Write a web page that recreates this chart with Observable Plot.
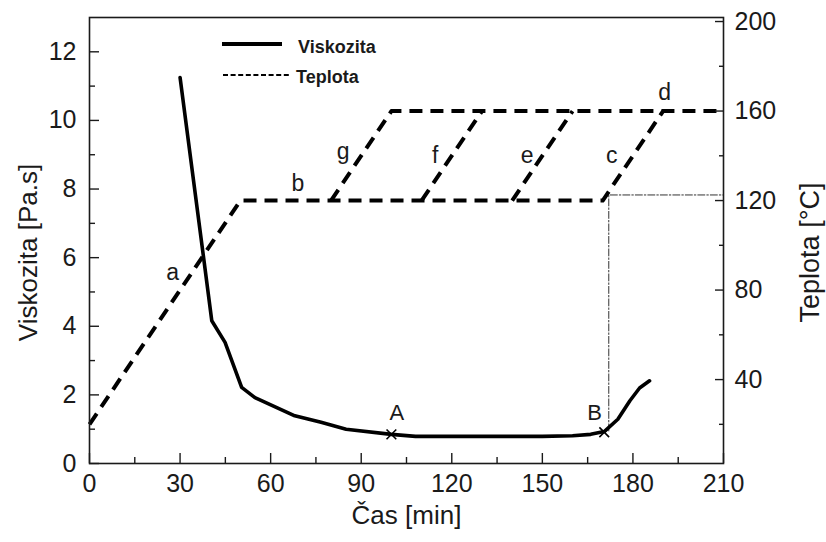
<!DOCTYPE html>
<html>
<head>
<meta charset="utf-8">
<script src="https://cdn.jsdelivr.net/npm/d3@7"></script>
<script src="https://cdn.jsdelivr.net/npm/@observablehq/plot@0.6"></script>
<style>
  html, body { margin: 0; padding: 0; background: #fff; }
  #wrap { position: relative; width: 826px; height: 542px; font-family: "Liberation Sans", Arial, sans-serif; }
  #legend { position: absolute; left: 0; top: 0; pointer-events: none; }
</style>
</head>
<body>
<div id="wrap"></div>
<script>
// ---- data ----
const viscTime = [30, 37.7, 40.5, 44.9, 50.4, 54.8, 68, 76.7, 85, 100, 108, 130, 150, 160, 166, 170.5, 175, 179, 182.2, 185.5];
const viscValue = [11.25, 6.06, 4.16, 3.53, 2.22, 1.92, 1.39, 1.2, 1.0, 0.85, 0.79, 0.79, 0.79, 0.81, 0.85, 0.93, 1.29, 1.83, 2.2, 2.41];

// temperature program segments
const tempSegment = ["main", "main", "main", "main", "g", "g", "g", "f", "f", "e", "e"];
const tempTime    = [0, 50, 170, 190, 80, 100, 210, 110, 130, 140, 160];
const tempValue   = [20, 120, 120, 160, 120, 160, 160, 120, 160, 120, 160];

// guide lines (dash-dot)
const guideTime = [172, 172, 210];
const guideTemp = [null, 122.5, 122.5];
const guideVisc = [0.95, null, null];

// point markers
const markTime = [100, 170.5];
const markVisc = [0.85, 0.91];
const markLabel = ["A", "B"];
const markLabelVisc = [1.48, 1.48];
const markLabelTime = [101.8, 167.3];

// segment letters (time, viscosity-axis position)
const letters = ["a", "b", "g", "f", "e", "c", "d"];
const letterTime = [27.5, 69, 84, 114.5, 145, 173, 190.5];
const letterVisc = [5.57, 8.16, 9.1, 8.98, 8.98, 8.98, 10.8];

// axes
const xTicks = [0, 30, 60, 90, 120, 150, 180, 210];
const xMinor = [15, 45, 75, 105, 135, 165, 195];
const yTicks = [0, 2, 4, 6, 8, 10, 12];
const yMinor = [1, 3, 5, 7, 9, 11];
const tTicks = [40, 80, 120, 160, 200];
const tMinor = [20, 60, 100, 140, 180];

// scale domains
const viscMax = 13;
const tempMin = 2.5, tempMax = 201.8;
const toV = t => (t - tempMin) / (tempMax - tempMin) * viscMax;
const fromV = v => v / viscMax * (tempMax - tempMin) + tempMin;

// ---- tables ----
const visc = viscTime.map((t, i) => ({t, v: viscValue[i]}));
const temp = tempTime.map((t, i) => ({t, v: toV(tempValue[i]), s: tempSegment[i]}));
const guide = [
  {t: guideTime[0], v: guideVisc[0]},
  {t: guideTime[1], v: toV(guideTemp[1])},
  {t: guideTime[2], v: toV(guideTemp[2])}
];
const marks = markTime.map((t, i) => ({t, v: markVisc[i]}));
const markLabels = markLabel.map((l, i) => ({t: markLabelTime[i], v: markLabelVisc[i], l}));
const letterData = letters.map((l, i) => ({l, t: letterTime[i], v: letterVisc[i]}));

const ink = "#1a1a1a";
const font = "\"Liberation Sans\", Arial, sans-serif";

const chart = Plot.plot({
  width: 826,
  height: 542,
  marginLeft: 89,
  marginRight: 103,
  marginTop: 17,
  marginBottom: 79,
  style: {fontFamily: font, background: "#fff", color: ink, overflow: "visible"},
  x: {domain: [0, 210]},
  y: {domain: [0, viscMax]},
  marks: [
    // guides
    Plot.line(guide, {x: "t", y: "v", stroke: "#333", strokeWidth: 1, strokeDasharray: "7,2,1.5,2"}),
    // temperature
    Plot.line(temp, {x: "t", y: "v", z: "s", stroke: "#000", strokeWidth: 4, strokeDasharray: "13,8", strokeLinecap: "butt"}),
    // viscosity
    Plot.line(visc, {x: "t", y: "v", stroke: "#000", strokeWidth: 3.6, strokeLinejoin: "round"}),
    Plot.dot(marks, {x: "t", y: "v", symbol: "times", r: 4.5, stroke: "#000", strokeWidth: 1.6}),
    Plot.text(markLabels, {x: "t", y: "v", text: "l", fontSize: 22, fill: ink}),
    Plot.text(letterData, {x: "t", y: "v", text: "l", fontSize: 23, fill: ink}),
    // frame
    Plot.frame({stroke: ink, strokeWidth: 1.6}),
    // x axis ticks (inward)
    Plot.axisX(xTicks, {anchor: "bottom", tickSize: -10, fill: "none", stroke: ink, strokeWidth: 1.4, label: null}),
    Plot.axisX(xMinor, {anchor: "bottom", tickSize: -6, fill: "none", stroke: ink, strokeWidth: 1.4, label: null}),
    Plot.axisX(xTicks, {anchor: "bottom", tickSize: 0, tickPadding: 11, fontSize: 25, fill: ink, label: null}),
    // left axis
    Plot.axisY(yTicks, {anchor: "left", tickSize: -10, fill: "none", stroke: ink, strokeWidth: 1.4, label: null}),
    Plot.axisY(yMinor, {anchor: "left", tickSize: -6, fill: "none", stroke: ink, strokeWidth: 1.4, label: null}),
    Plot.axisY(yTicks, {anchor: "left", tickSize: 0, tickPadding: 13, fontSize: 25, fill: ink, label: null}),
    // right axis
    Plot.axisY(tTicks.map(toV), {anchor: "right", tickSize: -9, fill: "none", stroke: ink, strokeWidth: 1.4, label: null}),
    Plot.axisY(tMinor.map(toV), {anchor: "right", tickSize: -5, fill: "none", stroke: ink, strokeWidth: 1.4, label: null}),
    Plot.axisY(tTicks.map(toV), {anchor: "right", tickSize: 0, tickPadding: 11, fontSize: 25, fill: ink, label: null,
      tickFormat: d => String(Math.round(fromV(d)))}),
    // axis titles
    Plot.text(["Čas [min]"], {frameAnchor: "bottom", dy: 60, fontSize: 26, fill: ink}),
    Plot.text(["Viskozita [Pa.s]"], {frameAnchor: "left", textAnchor: "middle", dx: -61, dy: 12, rotate: -90, fontSize: 26, fill: ink}),
    Plot.text(["Teplota [°C]"], {frameAnchor: "right", textAnchor: "middle", dx: 87, dy: 12, rotate: -90, fontSize: 27, fill: ink})
  ]
});

const wrap = document.getElementById("wrap");
wrap.appendChild(chart);

// legend overlay (inside the plot frame, top-left)
const ns = "http://www.w3.org/2000/svg";
const leg = document.createElementNS(ns, "svg");
leg.setAttribute("id", "legend");
leg.setAttribute("width", 826);
leg.setAttribute("height", 542);
const legendItems = [
  {label: "Viskozita", x1: 222, x2: 282, y: 44, tx: 298, ty: 53, width: 4, dash: null},
  {label: "Teplota", x1: 223, x2: 290, y: 75, tx: 296, ty: 83, width: 2.2, dash: "5,2.6"}
];
for (const it of legendItems) {
  const l = document.createElementNS(ns, "line");
  l.setAttribute("x1", it.x1); l.setAttribute("x2", it.x2);
  l.setAttribute("y1", it.y); l.setAttribute("y2", it.y);
  l.setAttribute("stroke", "#000");
  l.setAttribute("stroke-width", it.width);
  if (it.dash) l.setAttribute("stroke-dasharray", it.dash);
  leg.appendChild(l);
  const t = document.createElementNS(ns, "text");
  t.setAttribute("x", it.tx); t.setAttribute("y", it.ty);
  t.setAttribute("font-family", font);
  t.setAttribute("font-size", 18);
  t.setAttribute("font-weight", "bold");
  t.setAttribute("fill", ink);
  t.textContent = it.label;
  leg.appendChild(t);
}
wrap.appendChild(leg);
</script>
</body>
</html>
